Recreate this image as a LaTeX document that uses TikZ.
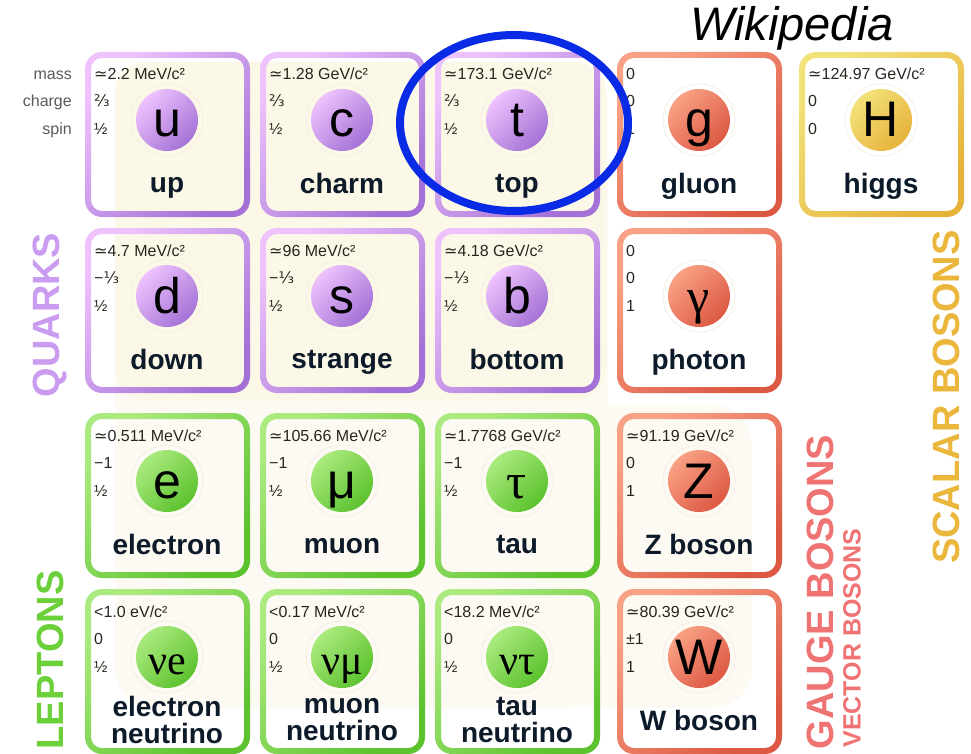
\documentclass[tikz,border=0pt]{standalone}
\usepackage{fontspec}
\setmainfont{Liberation Sans}
\newfontfamily\symfont{DejaVu Sans}
\newfontfamily\grkfont{Liberation Serif}
\newcommand\tsim{{\symfont ≃}}
\newcommand\ftwo{{\symfont ⅔}}
\newcommand\fone{{\symfont ⅓}}
\newcommand\mevc{MeV/c²}
\newcommand\gevc{GeV/c²}
\newcommand\evc{eV/c²}
\newcommand\nusym[1]{{\grkfont\fontsize{42}{42}\selectfont ν#1}}
\definecolor{quarkA}{HTML}{EDC2FD}
\definecolor{quarkB}{HTML}{A472D6}
\definecolor{leptonA}{HTML}{AAEA7E}
\definecolor{leptonB}{HTML}{5CC22E}
\definecolor{gaugeA}{HTML}{F9A184}
\definecolor{gaugeB}{HTML}{DC5843}
\definecolor{higgsA}{HTML}{F2E27A}
\definecolor{higgsB}{HTML}{E6B23A}
\definecolor{quarktxt}{HTML}{C99CEF}
\definecolor{leptontxt}{HTML}{6CD03A}
\definecolor{gaugetxt}{HTML}{F07373}
\definecolor{scalartxt}{HTML}{EBB63C}
\definecolor{creamA}{HTML}{FCF8E7}
\definecolor{creamB}{HTML}{FCFAF3}
\definecolor{ringclr}{HTML}{F4EFE4}
\definecolor{propclr}{HTML}{26261E}
\definecolor{nameclr}{HTML}{0C1A29}
\definecolor{sideclr}{HTML}{5A5A5A}
\definecolor{markblue}{HTML}{0A2BE6}

\begin{document}
\begin{tikzpicture}[x=1pt,y=-1pt,
  prop/.style={anchor=base west,inner sep=0pt,text=propclr,
    font=\fontsize{16}{16}\selectfont},
  side/.style={anchor=base east,inner sep=0pt,text=sideclr,
    font=\fontsize{16}{16}\selectfont},
  ball/.style={circle,minimum size=62pt,inner sep=0pt,
    text height=34pt,text depth=0pt,font=\fontsize{50}{50}\selectfont},
  pname/.style={align=center,inner sep=0pt,text=nameclr,
    font=\bfseries\fontsize{28}{27}\selectfont,
    execute at begin node=\strut,execute at end node=\strut},
  family/.style={rotate=90,inner sep=0pt,font=\bfseries\fontsize{38}{38}\selectfont},
  halo/.style={ringclr,line width=0.8pt}]

  \useasboundingbox (0,0) rectangle (971,754);

  % ===== BACKGROUND =====
  \fill[creamB,rounded corners=40pt] (115,62) rectangle (608,708);
  \fill[creamB,rounded corners=40pt] (560,405) rectangle (752,708);
  \fill[creamA,rounded corners=30pt] (115,62) rectangle (606,400);

  % ===== ROW LABELS =====
  \node[side] (lmass) at (72,80) {mass};
  \node[side] (lcharge) at (72,107) {charge};
  \node[side] (lspin) at (72,135) {spin};

  % ===== PARTICLES =====
  \foreach \nm/\x/\y/\kind/\sym/\mass/\chg/\spn/\lbl in {
    up/85/52/quark/u/\tsim2.2 \mevc/\ftwo/½/up,
    charm/260/52/quark/c/\tsim1.28 \gevc/\ftwo/½/charm,
    top/435/52/quark/t/\tsim173.1 \gevc/\ftwo/½/top,
    gluon/617/52/gauge/g/0/0/1/gluon,
    higgs/799/52/higgs/H/\tsim124.97 \gevc/0/0/higgs,
    down/85/228/quark/d/\tsim4.7 \mevc/−\fone/½/down,
    strange/260/228/quark/s/\tsim96 \mevc/−\fone/½/strange,
    bottom/435/228/quark/b/\tsim4.18 \gevc/−\fone/½/bottom,
    photon/617/228/gauge/{\grkfont γ}/0/0/1/photon,
    electron/85/413/lepton/e/\tsim0.511 \mevc/−1/½/electron,
    muon/260/413/lepton/μ/\tsim105.66 \mevc/−1/½/muon,
    tau/435/413/lepton/{\grkfont τ}/\tsim1.7768 \gevc/−1/½/tau,
    zboson/617/413/gauge/Z/\tsim91.19 \gevc/0/1/Z boson,
    enu/85/589/lepton/\nusym{e}/<1.0 \evc/0/½/electron\\neutrino,
    munu/260/589/lepton/\nusym{μ}/<0.17 \mevc/0/½/muon\\neutrino,
    taunu/435/589/lepton/\nusym{τ}/<18.2 \mevc/0/½/tau\\neutrino,
    wboson/617/589/gauge/W/\tsim80.39 \gevc/±1/1/W boson}
  {
    \shade[even odd rule,top color=\kind A,bottom color=\kind B,shading angle=45,
        rounded corners=17pt] (\x,\y) rectangle +(165,165)
        [rounded corners=11pt] (\x+6,\y+6) rectangle +(153,153);
    \node[ball,top color=\kind A,bottom color=\kind B,shading angle=45]
        (\nm) at (\x+82,\y+68) {\sym};
    \draw[halo] (\nm.center) circle (36pt);
    \node[prop] (\nm-mass) at (\x+9,\y+28) {\mass};
    \node[prop] (\nm-charge) at (\x+9,\y+55) {\chg};
    \node[prop] (\nm-spin) at (\x+9,\y+83) {\spn};
    \node[pname] (\nm-name) at (\x+82,\y+135) {\lbl};
  }

  % ===== FAMILIES =====
  \node[family,quarktxt] (quarks) at (50,315) {QUARKS};
  \node[family,leptontxt] (leptons) at (50,660) {LEPTONS};
  \node[family,gaugetxt] (gauge) at (820,592) {GAUGE BOSONS};
  \node[family,gaugetxt,font=\bfseries\fontsize{25}{25}\selectfont]
        (vector) at (852,638) {VECTOR BOSONS};
  \node[family,scalartxt] (scalar) at (946,397) {SCALAR BOSONS};

  \node[font=\itshape\fontsize{47}{47}\selectfont,inner sep=0pt] (wiki) at (792,28) {Wikipedia};

  % ===== HIGHLIGHT =====
  \draw[markblue,line width=8pt] ([shift={(-3,3)}]top.center)
        ellipse [x radius=114pt,y radius=88pt];

\end{tikzpicture}
\end{document}
